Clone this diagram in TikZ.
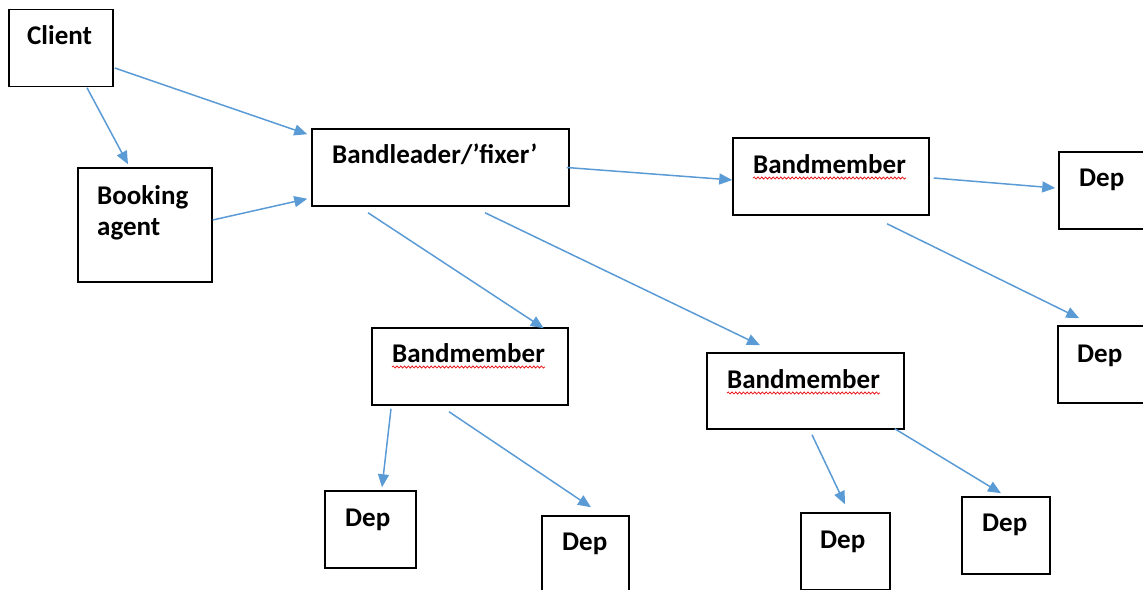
\documentclass[tikz,border=0pt]{standalone}
\usepackage{fontspec}
\setmainfont{Carlito}
\usetikzlibrary{arrows.meta,decorations.pathmorphing}
\definecolor{linkblue}{HTML}{5B9BD5}
\definecolor{spellred}{HTML}{E8161B}
\begin{document}
\begin{tikzpicture}[x=1pt,y=-1pt,
  box/.style 2 args={draw=black,line width=1.5pt,inner sep=0pt,
    minimum width=#1,minimum height=#2},
  lbl/.style={anchor=base west,inner sep=0pt,
    font=\fontsize{27}{32}\selectfont\bfseries},
  link/.style={draw=linkblue,line width=1.5pt,
    -{Triangle[length=13pt,width=11pt]}},
  squig/.style={draw=spellred,line width=0.8pt,decorate,
    decoration={snake,amplitude=1pt,segment length=3.8pt}}]
\useasboundingbox (0,0) rectangle (1143,589);
\clip (0,0) rectangle (1143,589);

% boxes
\node[box={104}{77}]  (client)     at (61,48)      {};
\node[box={134}{114}] (booking)    at (145,225)    {};
\node[box={257}{77}]  (bandleader) at (440.5,167.5) {};
\node[box={196}{77}]  (bmtop)      at (831,176.5)  {};
\node[box={101}{77}]  (deptop)     at (1109.5,190.5) {};
\node[box={102}{77}]  (depright)   at (1109,364.5) {};
\node[box={196}{77}]  (bmleft)     at (470,366.5)  {};
\node[box={197}{76}]  (bmright)    at (805.5,391)  {};
\node[box={91}{77}]   (depa)       at (370.5,529.5) {};
\node[box={87}{77}]   (depb)       at (585.5,554.5) {};
\node[box={89}{77}]   (depc)       at (845.5,551.5) {};
\node[box={88}{77}]   (depd)       at (1006,535.5) {};

% labels
\node[lbl] (tclient)  at (27,44)    {Client};
\node[lbl] (tbook)    at (97,204)   {Booking};
\node[lbl] (tagent)   at (97,235)   {agent};
\node[lbl] (tleader)  at (332,163.5) {Bandleader/’fixer’};
\node[lbl] (tbmtop)   at (753,173)  {Bandmember};
\node[lbl] (tbmleft)  at (392,362)  {Bandmember};
\node[lbl] (tbmright) at (727,388)  {Bandmember};
\node[lbl] (tdeptop)  at (1079,186) {Dep};
\node[lbl] (tdepright) at (1077,362) {Dep};
\node[lbl] (tdepa)    at (345,526)  {Dep};
\node[lbl] (tdepb)    at (562,550)  {Dep};
\node[lbl] (tdepc)    at (820,548)  {Dep};
\node[lbl] (tdepd)    at (982,531)  {Dep};

% wavy underlines below the member labels
\draw[squig] ([yshift=-5pt]tbmtop.base west) -- ([yshift=-5pt]tbmtop.base east);
\draw[squig] ([yshift=-5pt]tbmleft.base west) -- ([yshift=-5pt]tbmleft.base east);
\draw[squig] ([yshift=-5pt]tbmright.base west) -- ([yshift=-5pt]tbmright.base east);

% connectors
\draw[link] ([shift={(1,20)}]client.east) -- ([shift={(-4,6)}]bandleader.north west);
\draw[link] ([shift={(26,0.5)}]client.south) -- ([shift={(-17,-3)}]booking.north);
\draw[link] ([shift={(0,-5)}]booking.east) -- ([shift={(-4,-8)}]bandleader.south west);
\draw[link] ([shift={(-3,0)}]bandleader.east) -- ([shift={(0,3.5)}]bmtop.west);
\draw[link] ([shift={(4,1.5)}]bmtop.east) -- ([shift={(-3,-2.5)}]deptop.west);
\draw[link] ([shift={(56,8)}]bmtop.south) -- ([shift={(22,-7)}]depright.north west);
\draw[link] ([shift={(-72.5,6)}]bandleader.south) -- ([shift={(-25,1)}]bmleft.north east);
\draw[link] ([shift={(44.5,6)}]bandleader.south) -- ([shift={(-45.5,-7)}]bmright.north);
\draw[link] ([shift={(-79,3)}]bmleft.south) -- ([shift={(11.5,-3)}]depa.north);
\draw[link] ([shift={(-21,6)}]bmleft.south) -- ([shift={(5.5,-8)}]depb.north);
\draw[link] ([shift={(6.5,5)}]bmright.south) -- ([shift={(-0.5,-8)}]depc.north);
\draw[link] ([shift={(-10,-1)}]bmright.south east) -- ([shift={(-5,-3)}]depd.north);
\end{tikzpicture}
\end{document}
